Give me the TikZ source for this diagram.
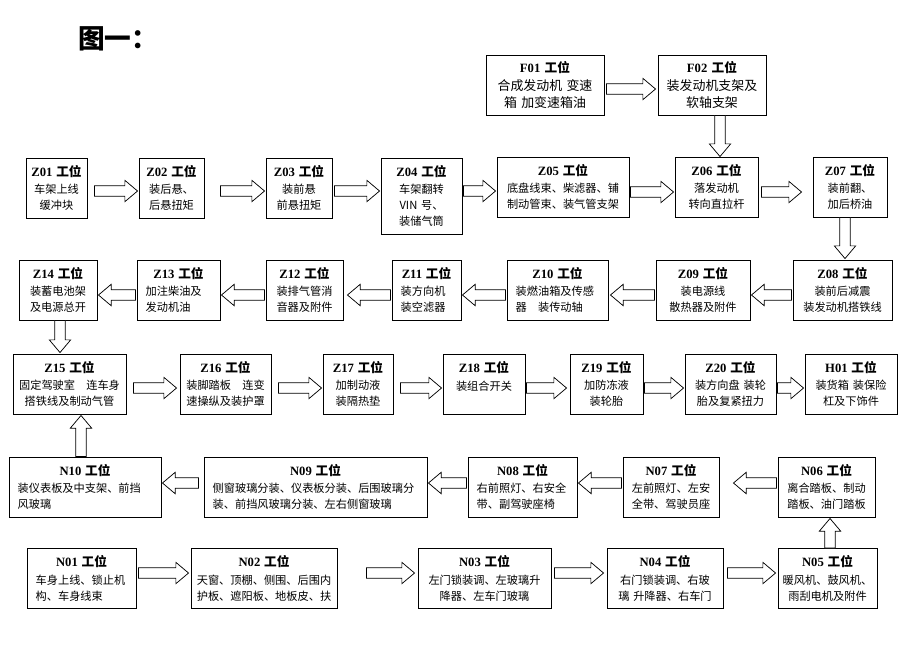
\documentclass[tikz,border=0pt]{standalone}
\usepackage{fontspec}
\setmainfont{Noto Sans CJK SC}
\newfontfamily\latin{Liberation Serif}
\usetikzlibrary{calc}

\newcommand\gw[1]{\makebox[\hsize]{\fontsize{9.5}{12}\selectfont\bfseries{\latin #1} 工位}}
\newcommand\fatarrow[2]{%
  \coordinate (fa-s) at (#1);
  \coordinate (fa-e) at (#2);
  \coordinate (fa-h) at ($(fa-e)!9.5pt!(fa-s)$);
  \draw[flow] ($(fa-s)!4pt!90:(fa-e)$) -- ($(fa-h)!4pt!-90:(fa-s)$) -- ($(fa-h)!8pt!-90:(fa-s)$) -- (fa-e) -- ($(fa-h)!8pt!90:(fa-s)$) -- ($(fa-h)!4pt!90:(fa-s)$) -- ($(fa-s)!4pt!-90:(fa-e)$) -- cycle;}

\tikzset{
  station/.style={draw, line width=0.7pt, align=center, inner xsep=3pt, inner ysep=2pt, minimum height=45pt, font=\fontsize{8.4}{12}\selectfont},
  stationl/.style={station, align=left, inner xsep=6.5pt},
  fstation/.style={station, font=\fontsize{9.7}{13}\selectfont},
  flow/.style={draw, line width=0.55pt, fill=white},
}

\begin{document}
\begin{tikzpicture}[x=0.75pt,y=0.75pt,yscale=-1,xscale=1]
\useasboundingbox (0,0) rectangle (920,651);
\node[font=\fontsize{20}{20}\selectfont\bfseries] (title) at (118,39) {图一：};

% F line
\node[fstation, text width=82.5pt] (f01) at (545,85) {\gw{F01}\\合成发动机 变速\\箱 加变速箱油};
\node[fstation, text width=75pt] (f02) at (712,85) {\gw{F02}\\装发动机支架及\\软轴支架};

% Z line
\node[station, text width=39.75pt] (z01) at (56.5,188) {\gw{Z01}\\[1pt]车架上线\\缓冲块};
\node[station, text width=42.75pt] (z02) at (171.5,188) {\gw{Z02}\\[1pt]装后悬、\\后悬扭矩};
\node[station, text width=43.5pt] (z03) at (299,188) {\gw{Z03}\\[1pt]装前悬\\前悬扭矩};
\node[station, text width=54.75pt, minimum height=57pt] (z04) at (421.5,196) {\gw{Z04}\\[1pt]车架翻转\\VIN 号、\\装储气筒};
\node[station, text width=93pt] (z05) at (563,187) {\gw{Z05}\\[1pt]底盘线束、柴滤器、铺\\制动管束、装气管支架};
\node[station, text width=56.25pt] (z06) at (716.5,187) {\gw{Z06}\\[1pt]落发动机\\转向直拉杆};
\node[station, text width=49.5pt] (z07) at (850,187) {\gw{Z07}\\[1pt]装前翻、\\加后桥油};

\node[station, text width=68.25pt] (z08) at (842.5,290) {\gw{Z08}\\[1pt]装前后减震\\装发动机搭铁线};
\node[station, text width=64.5pt] (z09) at (703,290) {\gw{Z09}\\[1pt]装电源线\\散热器及附件};
\node[stationl, text width=62.75pt] (z10) at (557.5,290) {\gw{Z10}\\[1pt]装燃油箱及传感\\器　装传动轴};
\node[stationl, text width=38.75pt] (z11) at (426.5,290) {\gw{Z11}\\[1pt]装方向机\\装空滤器};
\node[station, text width=51.75pt] (z12) at (304.5,290) {\gw{Z12}\\[1pt]装排气管消\\音器及附件};
\node[stationl, text width=49.25pt] (z13) at (178.5,290) {\gw{Z13}\\[1pt]加注柴油及\\发动机油};
\node[station, text width=52.5pt] (z14) at (58,290) {\gw{Z14}\\[1pt]装蓄电池架\\及电源总开};

\node[station, text width=78.75pt] (z15) at (69.5,384) {\gw{Z15}\\[1pt]固定驾驶室　连车身\\搭铁线及制动气管};
\node[station, text width=62.25pt] (z16) at (225.5,384) {\gw{Z16}\\[1pt]装脚踏板　连变\\速操纵及装护罩};
\node[station, text width=46.5pt] (z17) at (358,384) {\gw{Z17}\\[1pt]加制动液\\装隔热垫};
\node[station, text width=55.5pt] (z18) at (484,384) {\gw{Z18}\\[1pt]装组合开关\\\mbox{}};
\node[station, text width=48.75pt] (z19) at (606.5,384) {\gw{Z19}\\[1pt]加防冻液\\装轮胎};
\node[station, text width=62.25pt] (z20) at (730.5,384) {\gw{Z20}\\[1pt]装方向盘 装轮\\胎及复紧扭力};
\node[station, text width=63pt] (h01) at (851,384) {\gw{H01}\\[1pt]装货箱 装保险\\杠及下饰件};

% N line
\node[stationl, text width=101pt] (n10) at (85,487) {\gw{N10}\\[1pt]装仪表板及中支架、前挡\\风玻璃};
\node[stationl, text width=154.25pt] (n09) at (315.5,487) {\gw{N09}\\[1pt]侧窗玻璃分装、仪表板分装、后围玻璃分\\装、前挡风玻璃分装、左右侧窗玻璃};
\node[stationl, text width=68.75pt] (n08) at (522.5,487) {\gw{N08}\\[1pt]右前照灯、右安全\\带、副驾驶座椅};
\node[station, text width=66pt] (n07) at (671,487) {\gw{N07}\\[1pt]左前照灯、左安\\全带、驾驶员座};
\node[station, text width=66.75pt] (n06) at (826.5,487) {\gw{N06}\\[1pt]离合踏板、制动\\踏板、油门踏板};

\node[stationl, text width=68.75pt] (n01) at (81.5,578.5) {\gw{N01}\\[1pt]车身上线、锁止机\\构、车身线束};
\node[station, text width=103.5pt] (n02) at (264,578.5) {\gw{N02}\\[1pt]天窗、顶棚、侧围、后围内\\护板、遮阳板、地板皮、扶};
\node[station, text width=93.75pt] (n03) at (484.5,578.5) {\gw{N03}\\[1pt]左门锁装调、左玻璃升\\降器、左车门玻璃};
\node[station, text width=81pt] (n04) at (665,578.5) {\gw{N04}\\[1pt]右门锁装调、右玻\\璃 升降器、右车门};
\node[station, text width=68.25pt] (n05) at (827.5,578.5) {\gw{N05}\\[1pt]暖风机、鼓风机、\\雨刮电机及附件};

% arrows
\fatarrow{$(f01.east)+(2,4)$}{$(f02.west)+(-2,4)$}
\fatarrow{$(f02.south)+(8,0)$}{$(z06.north)+(3.5,0)$}
\fatarrow{$(z01.east)+(7,3)$}{$(z02.west)+(-1,3)$}
\fatarrow{$(z02.east)+(16,3)$}{$(z03.west)+(-1,3)$}
\fatarrow{$(z03.east)+(2,3)$}{$(z04.west)+(-1,-5)$}
\fatarrow{$(z04.east)+(1,-5)$}{$(z05.west)+(-1,4)$}
\fatarrow{$(z05.east)+(1,5)$}{$(z06.west)+(-1,5)$}
\fatarrow{$(z06.east)+(3,5)$}{$(z07.west)+(-11,5)$}
\fatarrow{$(z07.south)+(-5,0)$}{$(z08.north)+(2.5,-1)$}
\fatarrow{$(z08.west)+(-1,5)$}{$(z09.east)+(1,5)$}
\fatarrow{$(z09.west)+(-1,5)$}{$(z10.east)+(2,5)$}
\fatarrow{$(z10.west)+(-1,5)$}{$(z11.east)+(1,5)$}
\fatarrow{$(z11.west)+(-1,5)$}{$(z12.east)+(4,5)$}
\fatarrow{$(z12.west)+(-1,5)$}{$(z13.east)+(1,5)$}
\fatarrow{$(z13.west)+(-1,5)$}{$(z14.east)+(1,5)$}
\fatarrow{$(z14.south)+(2,0)$}{$(z15.north)+(-9.5,-1)$}
\fatarrow{$(z15.east)+(7,4)$}{$(z16.west)+(-3,4)$}
\fatarrow{$(z16.east)+(7,4)$}{$(z17.west)+(-1,4)$}
\fatarrow{$(z17.east)+(7,4)$}{$(z18.west)+(-1,4)$}
\fatarrow{$(z18.east)+(1,4)$}{$(z19.west)+(-3,4)$}
\fatarrow{$(z19.east)+(1,4)$}{$(z20.west)+(-1,4)$}
\fatarrow{$(z20.east)+(1,4)$}{$(h01.west)+(-1,4)$}
\fatarrow{$(n10.north)+(-4,0)$}{$(z15.south)+(11.5,1)$}
\fatarrow{$(n05.north)+(2.5,0)$}{$(n06.south)+(3.5,1)$}
\fatarrow{$(n06.west)+(-1,-4)$}{$(n07.east)+(14,-4)$}
\fatarrow{$(n07.west)+(-1,-4)$}{$(n08.east)+(1,-4)$}
\fatarrow{$(n08.west)+(-1,-4)$}{$(n09.east)+(1,-4)$}
\fatarrow{$(n09.west)+(-5,-4)$}{$(n10.east)+(1,-4)$}
\fatarrow{$(n01.east)+(2,-5.5)$}{$(n02.west)+(-2,-5.5)$}
\fatarrow{$(n02.east)+(29,-5.5)$}{$(n03.west)+(-3,-5.5)$}
\fatarrow{$(n03.east)+(3,-5.5)$}{$(n04.west)+(-3,-5.5)$}
\fatarrow{$(n04.east)+(4,-5.5)$}{$(n05.west)+(-2,-5.5)$}
\end{tikzpicture}
\end{document}
